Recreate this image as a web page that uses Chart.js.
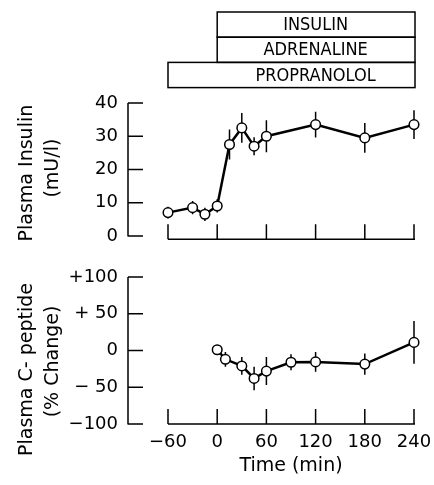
<!DOCTYPE html>
<html><head><meta charset="utf-8">
<script src="https://cdn.jsdelivr.net/npm/chart.js@4"></script>
<style>
html,body{margin:0;padding:0;background:#fff;}
#top{position:absolute;left:0;top:0;width:434px;height:250px;}
#bot{position:absolute;left:0;top:250px;width:434px;height:235px;}
</style></head><body>
<div id="top"><canvas id="c1" width="434" height="250"></canvas></div>
<div id="bot"><canvas id="c2" width="434" height="235"></canvas></div>
<script>
// ---- data ----
const xTicks = [-60, 0, 60, 120, 180, 240];
const xTickLabels = ['−60', '0', '60', '120', '180', '240'];

const insulinTimes  = [-60, -30, -15, 0, 15, 30, 45, 60, 120, 180, 240];
const insulinValues = [7, 8.5, 6.5, 9, 27.5, 32.5, 27, 30, 33.5, 29.5, 33.5];
const insulinErrors = [1.8, 2, 2, 2, 4.5, 4.5, 2.7, 4.8, 3.9, 4.5, 4.3];
const insulinYTicks = [0, 10, 20, 30, 40];
const insulinTitle = ['Plasma Insulin', '(mU/l)'];

const cpepTimes  = [0, 10, 30, 45, 60, 90, 120, 180, 240];
const cpepValues = [1, -12, -21, -38, -28, -16, -15.5, -18.5, 11];
const cpepErrors = [0, 10, 12, 16, 19, 11, 13.5, 14.5, 29];
const cpepYTicks = [-100, -50, 0, 50, 100];
const cpepYTickLabels = ['−100', '− 50', '0', '+ 50', '+100'];
const cpepTitle = ['Plasma C- peptide', '(% Change)'];

const treatments = ['INSULIN', 'ADRENALINE', 'PROPRANOLOL'];
const treatmentStart = [0, 0, -60];
const treatmentEnd = [240, 240, 240];

// ---- styling ----
const FONT = "'DejaVu Sans', 'Liberation Sans', sans-serif";
const COND = "'DejaVu Sans Condensed', 'Liberation Sans Narrow', 'DejaVu Sans', sans-serif";

const axesPlugin = {
  id: 'handAxes',
  beforeDatasetsDraw(chart, args, opts) {
    const ctx = chart.ctx, xs = chart.scales.x, ys = chart.scales.y, ca = chart.chartArea;
    ctx.save();
    ctx.strokeStyle = '#000';
    ctx.lineWidth = 1.5;
    ctx.lineCap = 'butt';
    // y axis
    const ax = ca.left - 40;
    const yt = opts.yTicks;
    ctx.beginPath();
    ctx.moveTo(ax, ys.getPixelForValue(yt[yt.length - 1]));
    ctx.lineTo(ax, ys.getPixelForValue(yt[0]) + 0.5);
    yt.forEach(v => {
      const y = ys.getPixelForValue(v);
      ctx.moveTo(ax, y);
      ctx.lineTo(ax + 15, y);
    });
    ctx.stroke();
    // x axis
    const by = ca.bottom;
    ctx.beginPath();
    ctx.moveTo(xs.getPixelForValue(xTicks[0]), by);
    ctx.lineTo(xs.getPixelForValue(xTicks[xTicks.length - 1]) + 1, by);
    xTicks.forEach(v => {
      const x = xs.getPixelForValue(v);
      ctx.moveTo(x, by);
      ctx.lineTo(x, by - 15);
    });
    ctx.stroke();
    // error bars
    const t = opts.times, vals = opts.values, errs = opts.errors;
    ctx.lineWidth = 1.5;
    ctx.beginPath();
    t.forEach((tt, i) => {
      if (!errs[i]) return;
      const x = xs.getPixelForValue(tt);
      ctx.moveTo(x, ys.getPixelForValue(vals[i] - errs[i]));
      ctx.lineTo(x, ys.getPixelForValue(vals[i] + errs[i]));
    });
    ctx.stroke();
    // rotated y-axis title (two lines)
    ctx.fillStyle = '#000';
    ctx.font = '19px ' + FONT;
    ctx.textAlign = 'center';
    ctx.textBaseline = 'middle';
    const cy = (ca.top + ca.bottom) / 2 + opts.titleShift;
    opts.title.forEach((line, i) => {
      ctx.save();
      ctx.translate(27 + i * 26, cy - i * opts.lineShift);
      ctx.rotate(-Math.PI / 2);
      ctx.fillText(line, 0, 0);
      ctx.restore();
    });
    ctx.restore();
  }
};

const boxesPlugin = {
  id: 'treatBoxes',
  afterDraw(chart) {
    const ctx = chart.ctx, xs = chart.scales.x;
    const rowTop = 12, rowH = 25.2;
    ctx.save();
    ctx.strokeStyle = '#000';
    ctx.lineWidth = 1.5;
    ctx.fillStyle = '#000';
    ctx.font = '18px ' + COND;
    ctx.textAlign = 'center';
    ctx.textBaseline = 'middle';
    const cx = (xs.getPixelForValue(0) + xs.getPixelForValue(240)) / 2;
    treatments.forEach((name, i) => {
      const x0 = xs.getPixelForValue(treatmentStart[i]);
      const x1 = xs.getPixelForValue(treatmentEnd[i]) + 1;
      const y0 = rowTop + i * rowH;
      ctx.strokeRect(x0, y0, x1 - x0, rowH);
      ctx.fillText(name, cx, y0 + rowH / 2 + 1);
    });
    ctx.restore();
  }
};

function lineDataset(times, values) {
  return {
    data: times.map((t, i) => ({x: t, y: values[i]})),
    borderColor: '#000',
    borderWidth: 2.5,
    pointRadius: 4.8,
    pointBackgroundColor: '#fff',
    pointBorderColor: '#000',
    pointBorderWidth: 1.5,
    tension: 0,
    clip: false
  };
}

function yScale(min, max, ticks, labels) {
  return {
    type: 'linear', position: 'left', min: min, max: max,
    afterBuildTicks: s => { s.ticks = ticks.map(v => ({value: v})); },
    afterFit: s => { s.width = 168; },
    grid: {display: false, drawTicks: true, tickLength: 50},
    border: {display: false},
    ticks: {
      padding: 0, color: '#000', font: {family: FONT, size: 18},
      callback: v => labels ? labels[ticks.indexOf(v)] : String(v)
    },
    title: {display: false}
  };
}

new Chart(document.getElementById('c1'), {
  type: 'line',
  data: {datasets: [lineDataset(insulinTimes, insulinValues)]},
  options: {
    responsive: false, animation: false,
    layout: {padding: {top: 103, right: 20, bottom: 10, left: 0}},
    plugins: {legend: {display: false}, tooltip: {enabled: false},
      handAxes: {yTicks: insulinYTicks, times: insulinTimes, values: insulinValues, errors: insulinErrors,
                 title: insulinTitle, titleShift: 2, lineShift: 5}},
    scales: {
      x: {type: 'linear', min: -60, max: 240, display: false},
      y: yScale(-1, 40, insulinYTicks, null)
    }
  },
  plugins: [axesPlugin, boxesPlugin]
});

new Chart(document.getElementById('c2'), {
  type: 'line',
  data: {datasets: [lineDataset(cpepTimes, cpepValues)]},
  options: {
    responsive: false, animation: false,
    layout: {padding: {top: 27, right: 20, bottom: 0, left: 0}},
    plugins: {legend: {display: false}, tooltip: {enabled: false},
      handAxes: {yTicks: cpepYTicks, times: cpepTimes, values: cpepValues, errors: cpepErrors,
                 title: cpepTitle, titleShift: 19, lineShift: 8}},
    scales: {
      x: {
        type: 'linear', min: -60, max: 240,
        afterBuildTicks: s => { s.ticks = xTicks.map(v => ({value: v})); },
        afterFit: s => { s.height = 61; },
        grid: {display: false, drawTicks: true, tickLength: 8},
        border: {display: false},
        ticks: {
          padding: 0, color: '#000', font: {family: FONT, size: 18},
          maxRotation: 0, autoSkip: false,
          callback: v => xTickLabels[xTicks.indexOf(v)]
        },
        title: {
          display: true, text: 'Time (min)', color: '#000',
          font: {family: FONT, size: 19}, padding: {top: 0, bottom: 7.6}
        }
      },
      y: yScale(-100, 100, cpepYTicks, cpepYTickLabels)
    }
  },
  plugins: [axesPlugin]
});
</script>
</body></html>
